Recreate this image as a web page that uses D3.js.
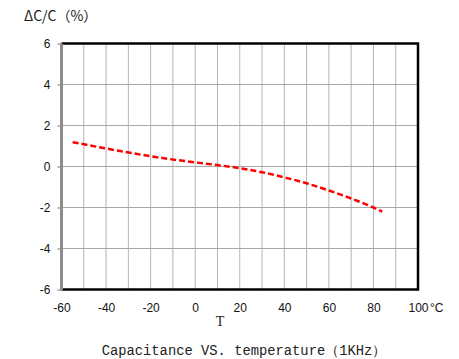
<!DOCTYPE html>
<html>
<head>
<meta charset="UTF-8">
<title>Capacitance VS. temperature</title>
<style>
  body{ margin:0; background:#fff; }
  svg{ display:block; }
  .tick text{ font-family:"Liberation Sans", Arial, sans-serif; font-size:12px; fill:#111; }
</style>
</head>
<body>
<svg></svg>
<script src="https://d3js.org/d3.v7.min.js"></script>
<script>

// data
const temps = [-55, -40, -20, 0, 10, 20, 30, 40, 50, 60, 70, 80, 84];
const deltaC = [1.19, 0.88, 0.5, 0.2, 0.07, -0.08, -0.28, -0.53, -0.82, -1.17, -1.56, -2.0, -2.2];
const xTicks = [-60, -40, -20, 0, 20, 40, 60, 80, 100];
const xGrid = d3.range(-60, 101, 10);
const yTicks = [-6, -4, -2, 0, 2, 4, 6];

let width = 459, height = 359;
let svg = d3.select("svg").attr("width", width).attr("height", height);

let x = d3.scaleLinear().domain([-60, 100]).range([61.5, 418]);
let y = d3.scaleLinear().domain([-6, 6]).range([289.5, 43.5]);

// grid
svg.append("g").selectAll("line").data(xGrid).enter().append("line")
    .attr("x1", d => x(d)).attr("x2", d => x(d))
    .attr("y1", y(6)).attr("y2", y(-6))
    .attr("stroke", "#b4b4b4").attr("stroke-width", 1);
svg.append("g").selectAll("line").data(yTicks).enter().append("line")
    .attr("x1", x(-60)).attr("x2", x(100))
    .attr("y1", d => y(d)).attr("y2", d => y(d))
    .attr("stroke", "#a8a8a8").attr("stroke-width", 1);

// y axis
let ya = svg.append("g").attr("transform", "translate(" + x(-60) + ",0)")
    .call(d3.axisLeft(y).tickValues(yTicks).tickFormat(d => String(d)).tickSize(4).tickPadding(7));
ya.select(".domain").remove();
ya.selectAll(".tick line").attr("stroke", "#777");

// x axis labels
let xa = svg.append("g").attr("transform", "translate(0," + y(-6) + ")")
    .call(d3.axisBottom(x).tickValues(xTicks).tickFormat(d => String(d)).tickSize(0).tickPadding(14));
xa.select(".domain").remove();

svg.append("text")
    .attr("x", x(100) + 12).attr("y", y(-6) + 14).attr("dy", "0.71em")
    .attr("font-family", "Liberation Sans, Arial, sans-serif")
    .attr("font-size", 12).attr("fill", "#111")
    .text("°C");

// frame
svg.append("path")
    .attr("d", "M" + x(-60) + "," + y(6) + "H" + x(100) + "V" + y(-6) + "H" + x(-60))
    .attr("fill", "none").attr("stroke", "#000").attr("stroke-width", 2.5);
svg.append("line")
    .attr("x1", x(-60)).attr("x2", x(-60))
    .attr("y1", y(6)).attr("y2", y(-6) + 1)
    .attr("stroke", "#8c8c8c").attr("stroke-width", 3);

// curve
let line = d3.line()
    .x((d, i) => x(temps[i]))
    .y(d => y(d))
    .curve(d3.curveMonotoneX);

svg.append("path")
    .datum(deltaC)
    .attr("d", line)
    .attr("fill", "none")
    .attr("stroke", "#ff0000")
    .attr("stroke-width", 2.5)
    .attr("stroke-dasharray", "6,3");

// titles
svg.append("text")
    .attr("x", 24).attr("y", 21)
    .attr("font-family", "Noto Sans CJK SC, sans-serif")
    .attr("font-size", 14).attr("fill", "#222")
    .text("ΔC/C（%）");

svg.append("text")
    .attr("x", 220).attr("y", 326)
    .attr("text-anchor", "middle")
    .attr("font-family", "Liberation Serif, serif")
    .attr("font-size", 14).attr("fill", "#222")
    .text("T");

svg.append("text")
    .attr("x", 244).attr("y", 355)
    .attr("text-anchor", "middle")
    .attr("font-family", "Liberation Mono, monospace")
    .attr("font-size", 13.8).attr("fill", "#222")
    .text("Capacitance VS. temperature（1KHz）");

</script>
</body>
</html>
